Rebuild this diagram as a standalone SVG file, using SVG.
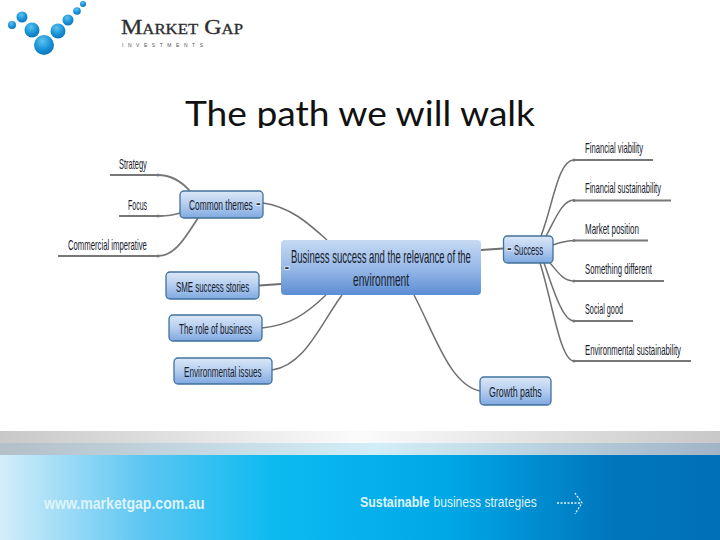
<svg xmlns="http://www.w3.org/2000/svg" width="720" height="540" viewBox="0 0 720 540">
<defs>
<radialGradient id="ball" cx="0.42" cy="0.3" r="0.75"><stop offset="0" stop-color="#5cc4ef"/><stop offset="0.55" stop-color="#1a94d8"/><stop offset="1" stop-color="#0c6fb4"/></radialGradient>
<linearGradient id="node" x1="0" y1="0" x2="0" y2="1"><stop offset="0" stop-color="#dbe8f8"/><stop offset="0.5" stop-color="#b4cdef"/><stop offset="1" stop-color="#7fa8e0"/></linearGradient>
<linearGradient id="main" x1="0" y1="0" x2="0" y2="1"><stop offset="0" stop-color="#c6daf3"/><stop offset="0.55" stop-color="#94b6e6"/><stop offset="1" stop-color="#5b8dd3"/></linearGradient>
<linearGradient id="bar1" x1="0" y1="0" x2="1" y2="0"><stop offset="0" stop-color="#c8c8c8"/><stop offset="0.5" stop-color="#fbfbfb"/><stop offset="1" stop-color="#c8c8c8"/></linearGradient>
<linearGradient id="bar2" x1="0" y1="0" x2="1" y2="0"><stop offset="0" stop-color="#b4bfc8"/><stop offset="0.52" stop-color="#d2eef8"/><stop offset="1" stop-color="#a0b4c6"/></linearGradient>
<linearGradient id="foot" x1="0" y1="0" x2="1" y2="0"><stop offset="0" stop-color="#d4edfa"/><stop offset="0.2" stop-color="#5cc6f2"/><stop offset="0.38" stop-color="#0cbaf0"/><stop offset="0.62" stop-color="#00a8e6"/><stop offset="0.85" stop-color="#0076bd"/><stop offset="1" stop-color="#0070b8"/></linearGradient>
<clipPath id="titleClip"><rect x="150" y="85" width="420" height="43"/></clipPath>
</defs>
<style>
.box{stroke:#41719c;stroke-width:1.3}
.link{fill:none;stroke:#707070;stroke-width:1.5}
.stem{fill:none;stroke:#777;stroke-width:1.8}
.tick{fill:#777}
.t{font-family:"Liberation Sans",Arial,sans-serif;fill:#17212c;font-size:14.500px}
.m{font-size:17.500px}
.f{font-family:"Liberation Sans",Arial,sans-serif}
.dash{font-family:"Liberation Sans",Arial,sans-serif;font-size:14px;font-weight:bold;fill:#2a3440;stroke:#e8f0fa;stroke-width:1.500;paint-order:stroke}
</style>
<rect width="720" height="540" fill="#fff"/>
<g id="logo">
<circle cx="12" cy="25" r="4" fill="url(#ball)"/><circle cx="22" cy="17" r="5.500" fill="url(#ball)"/><circle cx="32" cy="30" r="7.500" fill="url(#ball)"/><circle cx="44" cy="45" r="10" fill="url(#ball)"/><circle cx="58" cy="31" r="7.500" fill="url(#ball)"/><circle cx="68" cy="20" r="5.500" fill="url(#ball)"/><circle cx="77" cy="11" r="3.800" fill="url(#ball)"/><circle cx="83" cy="4" r="3" fill="url(#ball)"/>
<text x="121" y="33.500" style="font-family:'Liberation Serif',serif;font-variant:small-caps" font-size="20" fill="#2e2e2e" stroke="#2e2e2e" stroke-width="0.3" textLength="122" lengthAdjust="spacingAndGlyphs">Market Gap</text>
<text x="122" y="46.500" class="f" font-size="5" fill="#555" textLength="81" lengthAdjust="spacing">INVESTMENTS</text>
</g>
<text x="185" y="125.500" clip-path="url(#titleClip)" style="font-family:'Lato',sans-serif" font-size="34" fill="#111" textLength="350" lengthAdjust="spacingAndGlyphs">The path we will walk</text>
<g id="connectors">
<path class="link" d="M263 203C290 207 307 222 327 240"/>
<path class="link" d="M259 285.500L281 284" style="stroke-width:2"/>
<path class="link" d="M262 328C290 325 305 315 326 295"/>
<path class="link" d="M272 370C305 365 320 325 342 295"/>
<path class="link" d="M414 295C435 335 450 385 480 391"/>
<path class="link" d="M481 250L503 248.500" style="stroke-width:2"/>
<path class="stem" d="M110 175H158C170 175 181 181 190 191"/>
<path class="stem" d="M119 216H160C168 216 174 215 180 213"/>
<path class="stem" d="M58 256H158C175 256 185 238 198 218"/>
<path class="link" d="M541 236C553 205 558 160 574 160"/>
<path class="link" d="M546 236C555 220 562 200 574 200"/>
<path class="link" d="M553 245C558 243 565 241 574 240.500"/>
<path class="link" d="M550 263C558 272 563 281 574 281"/>
<path class="link" d="M544 263C552 285 562 321 574 321"/>
<path class="link" d="M540 263C552 300 560 361 574 361"/>
<path class="stem" d="M574 160H653M574 200.500H671M574 240.500H648M574 281H664M574 321H633M574 361H691"/>
<circle class="tick" cx="158" cy="175" r="1.500"/><circle class="tick" cx="158" cy="216" r="1.500"/><circle class="tick" cx="158" cy="256" r="1.500"/>
<circle class="tick" cx="574" cy="160" r="1.500"/><circle class="tick" cx="574" cy="200.500" r="1.500"/><circle class="tick" cx="574" cy="240.500" r="1.500"/><circle class="tick" cx="574" cy="281" r="1.500"/><circle class="tick" cx="574" cy="321" r="1.500"/><circle class="tick" cx="574" cy="361" r="1.500"/>
</g>
<g id="n-common"><rect class="box" x="180" y="191" width="83" height="27" rx="4" fill="url(#node)"/><text class="t" transform="translate(189 210) scale(.58 1)" textLength="110" lengthAdjust="spacingAndGlyphs">Common themes</text><text class="dash" x="256" y="208">-</text></g>
<g id="n-sme"><rect class="box" x="166" y="272" width="93" height="27" rx="4" fill="url(#node)"/><text class="t" transform="translate(176 292) scale(.58 1)" textLength="126" lengthAdjust="spacingAndGlyphs">SME success stories</text></g>
<g id="n-role"><rect class="box" x="169" y="315" width="93" height="26" rx="4" fill="url(#node)"/><text class="t" transform="translate(179 334) scale(.58 1)" textLength="126" lengthAdjust="spacingAndGlyphs">The role of business</text></g>
<g id="n-env"><rect class="box" x="174" y="358" width="98" height="26" rx="4" fill="url(#node)"/><text class="t" transform="translate(184 376.500) scale(.58 1)" textLength="134" lengthAdjust="spacingAndGlyphs">Environmental issues</text></g>
<g id="n-main"><rect x="281" y="240" width="200" height="55" rx="4" fill="url(#main)"/><text class="t m" transform="translate(291 262.500) scale(.55 1)" textLength="327" lengthAdjust="spacingAndGlyphs">Business success and the relevance of the</text><text class="t m" transform="translate(353 286) scale(.55 1)" textLength="102" lengthAdjust="spacingAndGlyphs">environment</text><text class="dash" x="284.500" y="272">-</text></g>
<g id="n-success"><rect class="box" x="503.500" y="236" width="49.500" height="27" rx="4" fill="url(#node)"/><text class="dash" x="507" y="253">-</text><text class="t" transform="translate(514 255) scale(.58 1)" textLength="50" lengthAdjust="spacingAndGlyphs">Success</text></g>
<g id="n-growth"><rect class="box" x="480" y="377" width="71" height="28" rx="4" fill="url(#node)"/><text class="t" transform="translate(489 397) scale(.58 1)" textLength="91" lengthAdjust="spacingAndGlyphs">Growth paths</text></g>
<g id="l-strategy"><text class="t" transform="translate(119 169) scale(.58 1)" textLength="48" lengthAdjust="spacingAndGlyphs">Strategy</text></g>
<g id="l-focus"><text class="t" transform="translate(128 209.500) scale(.58 1)" textLength="33" lengthAdjust="spacingAndGlyphs">Focus</text></g>
<g id="l-commercial"><text class="t" transform="translate(68 250) scale(.58 1)" textLength="136" lengthAdjust="spacingAndGlyphs">Commercial imperative</text></g>
<g id="l-fv"><text class="t" transform="translate(585 153) scale(.58 1)" textLength="100" lengthAdjust="spacingAndGlyphs">Financial viability</text></g>
<g id="l-fs"><text class="t" transform="translate(585 193) scale(.58 1)" textLength="131" lengthAdjust="spacingAndGlyphs">Financial sustainability</text></g>
<g id="l-mp"><text class="t" transform="translate(585 234) scale(.58 1)" textLength="93" lengthAdjust="spacingAndGlyphs">Market position</text></g>
<g id="l-sd"><text class="t" transform="translate(585 274) scale(.58 1)" textLength="115.500" lengthAdjust="spacingAndGlyphs">Something different</text></g>
<g id="l-sg"><text class="t" transform="translate(585 314) scale(.58 1)" textLength="65.500" lengthAdjust="spacingAndGlyphs">Social good</text></g>
<g id="l-es"><text class="t" transform="translate(585 355) scale(.58 1)" textLength="165.500" lengthAdjust="spacingAndGlyphs">Environmental sustainability</text></g>
<g id="footer">
<rect x="0" y="431" width="720" height="12" fill="url(#bar1)"/>
<rect x="0" y="443" width="720" height="12" fill="url(#bar2)"/>
<rect x="0" y="455" width="720" height="85" fill="url(#foot)"/>
<text transform="translate(44 509) scale(.85 1)" class="f" font-size="16" font-weight="bold" fill="#dff3fc" textLength="189" lengthAdjust="spacingAndGlyphs">www.marketgap.com.au</text>
<text transform="translate(360 507) scale(.8 1)" class="f" font-size="15" font-weight="bold" fill="#dff3fc" textLength="87" lengthAdjust="spacingAndGlyphs">Sustainable</text>
<text transform="translate(433.500 507) scale(.8 1)" class="f" font-size="15" fill="#dff3fc" textLength="129" lengthAdjust="spacingAndGlyphs">business strategies</text>
<path d="M557 503H580M575 493L582 503L575 514" fill="none" stroke="#e6f6fd" stroke-width="1.300" stroke-dasharray="2 1.500"/>
</g>
</svg>
